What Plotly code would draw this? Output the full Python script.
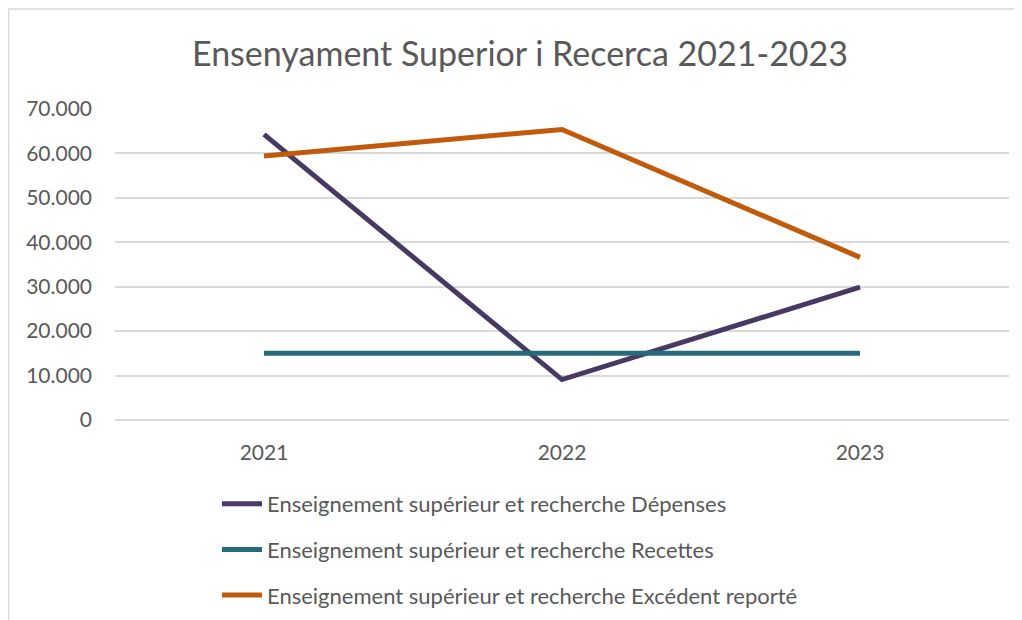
import plotly.graph_objects as go

# ---------- Data ----------
years = ["2021", "2022", "2023"]
depenses = [64300, 9100, 29900]
recettes = [15000, 15000, 15000]
excedent = [59400, 65400, 36600]

series_names = [
    "Enseignement supérieur et recherche Dépenses",
    "Enseignement supérieur et recherche Recettes",
    "Enseignement supérieur et recherche Excédent reporté",
]
series_values = [depenses, recettes, excedent]
series_colors = ["#483963", "#276B7A", "#BF5B0B"]

y_ticks = [0, 10000, 20000, 30000, 40000, 50000, 60000, 70000]

FONT = "Lato"
TEXT_COLOR = "#595959"
GRID_COLOR = "#D9D9D9"

# page body has an 8px margin, so the figure is a bit smaller than the window
W, H = 1014, 612
L, R, T, B = 107, 13, 101, 200
PW, PH = W - L - R, H - T - B

# ---------- Figure ----------
fig = go.Figure()
for i, (name, vals, col) in enumerate(zip(series_names, series_values, series_colors)):
    fig.add_trace(go.Scatter(
        x=years, y=vals, name=name, mode="lines",
        line=dict(color=col, width=5),
        legendgroup=f"g{i}",
    ))

fig.update_layout(
    width=W, height=H,
    paper_bgcolor="white", plot_bgcolor="white",
    margin=dict(l=L, r=R, t=T, b=B, autoexpand=False),
    separators=",.",
    font=dict(family=FONT, color=TEXT_COLOR, size=22),
    title=dict(
        text="Ensenyament Superior i Recerca 2021-2023",
        font=dict(family=FONT, size=34, color=TEXT_COLOR),
        xref="container", x=512 / W, xanchor="center",
        yref="container", y=1 - 46 / H, yanchor="middle",
    ),
    xaxis=dict(
        type="category", range=[-0.5, 2.5], showgrid=False, ticks="",
        showline=False, ticklabelstandoff=18,
        tickfont=dict(size=21, color=TEXT_COLOR),
    ),
    yaxis=dict(
        range=[0, 70000], tickvals=y_ticks, tickformat=",.0f",
        showgrid=True, gridcolor=GRID_COLOR, gridwidth=1.5,
        zeroline=True, zerolinecolor=GRID_COLOR, zerolinewidth=1.5,
        showline=False, ticks="", ticklabelstandoff=22,
        tickfont=dict(size=21, color=TEXT_COLOR),
    ),
    legend=dict(
        orientation="v",
        xref="paper", x=(209 - L) / PW, xanchor="left",
        yref="paper", y=(412 - 475) / PH, yanchor="top",
        font=dict(size=22, color=TEXT_COLOR),
        tracegroupgap=14, itemwidth=40,
        bgcolor="rgba(0,0,0,0)",
    ),
    showlegend=True,
    shapes=[dict(
        type="rect", xref="paper", yref="paper",
        x0=(0.5 - L) / PW, x1=1.2, y0=-1.0, y1=(412 - 1) / PH,
        line=dict(color="#D9D9D9", width=1.5), fillcolor="rgba(0,0,0,0)",
        layer="below",
    )],
)

fig.write_html("out.html")
